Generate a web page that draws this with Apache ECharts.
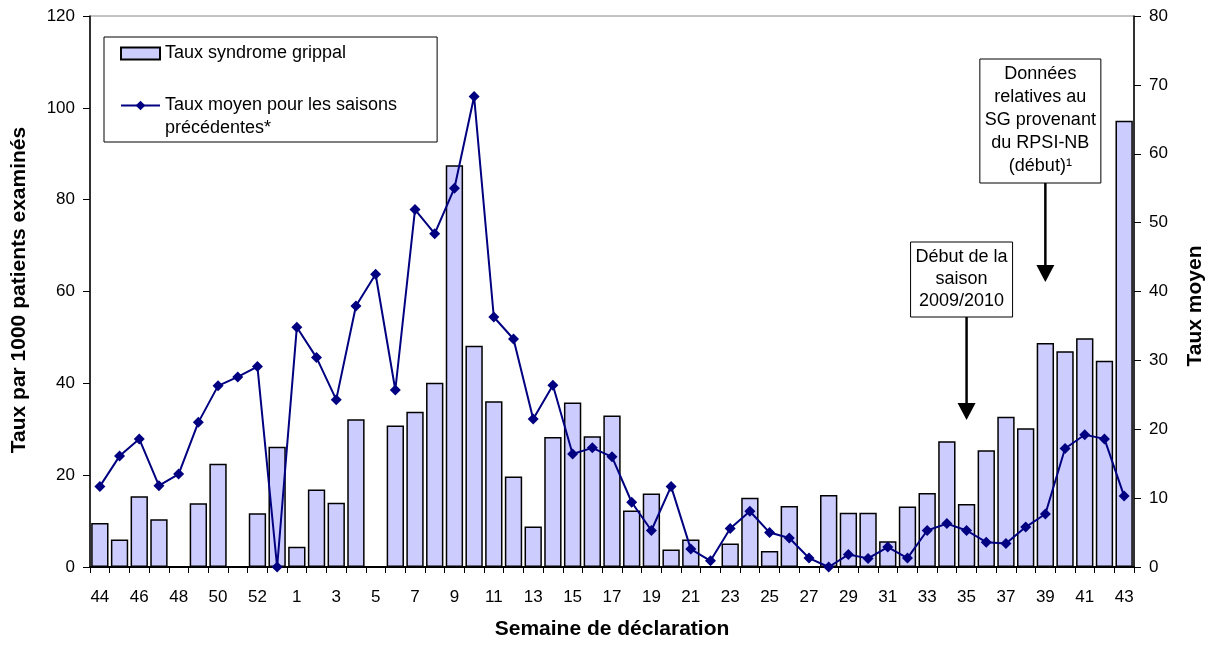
<!DOCTYPE html>
<html>
<head>
<meta charset="utf-8">
<title>Taux syndrome grippal</title>
<script src="https://cdn.jsdelivr.net/npm/echarts@6/dist/echarts.min.js"></script>
<style>
html, body { margin: 0; padding: 0; background: #fff; }
#main { width: 1211px; height: 646px; }
</style>
</head>
<body>
<div id="main"></div>
<script>
// semaines de déclaration (44 à 53, puis 1 à 43)
const semaines = ['44', '45', '46', '47', '48', '49', '50', '51', '52', '53',
  '1', '2', '3', '4', '5', '6', '7', '8', '9', '10',
  '11', '12', '13', '14', '15', '16', '17', '18', '19', '20',
  '21', '22', '23', '24', '25', '26', '27', '28', '29', '30',
  '31', '32', '33', '34', '35', '36', '37', '38', '39', '40',
  '41', '42', '43']

// taux syndrome grippal (axe gauche), null = pas de donnée
const tauxSG = [9.6, 6.0, 15.4, 10.4, null, 13.9, 22.5, null, 11.7, 26.2,
  4.4, 16.9, 14.0, 32.2, null, 30.8, 33.8, 40.1, 87.5, 48.2,
  36.1, 19.7, 8.8, 28.3, 35.8, 28.5, 33.0, 12.3, 16.0, 3.8,
  6.0, null, 5.1, 15.1, 3.5, 13.3, null, 15.7, 11.8, 11.8,
  5.6, 13.2, 16.1, 27.4, 13.7, 25.4, 32.7, 30.2, 48.8, 47.0,
  49.8, 44.9, 97.2]

// taux moyen pour les saisons précédentes (axe droit)
const tauxMoyen = [11.7, 16.1, 18.6, 11.8, 13.5, 21.0, 26.3, 27.6, 29.1, 0,
  34.8, 30.4, 24.3, 37.9, 42.5, 25.7, 51.9, 48.4, 55.0, 68.3,
  36.3, 33.1, 21.5, 26.4, 16.4, 17.3, 16.0, 9.4, 5.3, 11.7,
  2.6, 0.9, 5.6, 8.1, 5.0, 4.2, 1.3, 0, 1.8, 1.25,
  2.9, 1.3, 5.3, 6.3, 5.3, 3.6, 3.4, 5.8, 7.7, 17.2,
  19.2, 18.6, 10.3]

// annotations : semaine visée et texte
const noteSemaines = ['35', '39']
const noteTextes = ['Début de la\nsaison\n2009/2010', 'Données\nrelatives au\nSG provenant\ndu RPSI-NB\n(début)¹']

const font = "'Liberation Sans', Arial, sans-serif"
const chart = echarts.init(document.getElementById('main'))

const option = {
  animation: false,
  textStyle: { fontFamily: font },
  grid: {
    left: 90,
    right: 77,
    top: 16,
    bottom: 79,
    show: true,
    borderColor: '#888',
    borderWidth: 1
  },
  legend: {
    orient: 'vertical',
    left: 104,
    top: 37,
    padding: [5, 40, 2, 16],
    itemGap: 6,
    itemWidth: 39,
    itemHeight: 12,
    borderColor: '#000',
    borderWidth: 1,
    textStyle: { fontSize: 18, lineHeight: 23, color: '#000', fontFamily: font },
    data: [
      { name: 'Taux syndrome grippal', icon: 'rect' },
      { name: 'Taux moyen pour les saisons précédentes*' }
    ],
    formatter: function (name) {
      // ligne vide en tête pour aligner le symbole sur la première ligne
      if (name.indexOf('saisons ') > 0) return '\n' + name.replace('saisons ', 'saisons\n')
      return name
    }
  },
  xAxis: {
    type: 'category',
    data: semaines,
    name: 'Semaine de déclaration',
    nameLocation: 'middle',
    nameGap: 52,
    nameTextStyle: { fontSize: 21, fontWeight: 'bold', color: '#000' },
    axisLine: { lineStyle: { color: '#000', width: 2 } },
    axisTick: { show: true, interval: 0, length: 6, lineStyle: { color: '#000' } },
    axisLabel: { interval: 1, fontSize: 17, color: '#000', margin: 22 }
  },
  yAxis: [
    {
      type: 'value',
      min: 0,
      max: 120,
      interval: 20,
      splitLine: { show: false },
      axisLine: { show: true, lineStyle: { color: '#000', width: 1.5 } },
      axisTick: { show: true, length: 7, lineStyle: { color: '#000' } },
      axisLabel: { fontSize: 17, color: '#000', margin: 15 }
    },
    {
      type: 'value',
      min: 0,
      max: 80,
      interval: 10,
      position: 'right',
      splitLine: { show: false },
      axisLine: { show: true, lineStyle: { color: '#000', width: 1.5 } },
      axisTick: { show: true, length: 7, lineStyle: { color: '#000' } },
      axisLabel: { fontSize: 17, color: '#000', margin: 15 }
    }
  ],
  series: [
    {
      name: 'Taux syndrome grippal',
      type: 'bar',
      yAxisIndex: 0,
      data: tauxSG,
      barCategoryGap: '12%',
      itemStyle: { color: '#ccccff', borderColor: '#000', borderWidth: 1.5 }
    },
    {
      name: 'Taux moyen pour les saisons précédentes*',
      type: 'line',
      yAxisIndex: 1,
      data: tauxMoyen,
      symbol: 'diamond',
      symbolSize: 11,
      lineStyle: { color: '#000080', width: 2 },
      itemStyle: { color: '#000080' }
    }
  ]
}

chart.setOption(option)

// titres des axes verticaux et annotations fléchées
function annotations () {
  const els = []
  els.push({
    type: 'text',
    x: 19, y: 290, rotation: Math.PI / 2,
    style: { text: 'Taux par 1000 patients examinés', font: 'bold 21px ' + font, fill: '#000', align: 'center', verticalAlign: 'middle' }
  })
  els.push({
    type: 'text',
    x: 1195, y: 306, rotation: Math.PI / 2,
    style: { text: 'Taux moyen', font: 'bold 21px ' + font, fill: '#000', align: 'center', verticalAlign: 'middle' }
  })
  const boxes = [
    { top: 242, w: 102, h: 75, tip: 420, lh: 22 },
    { top: 59, w: 121, h: 124, tip: 282, lh: 23 }
  ]
  noteSemaines.forEach(function (s, i) {
    const b = boxes[i]
    const cx = chart.convertToPixel({ xAxisIndex: 0 }, s)
    const bx = cx - 5
    els.push({
      type: 'rect',
      shape: { x: bx - b.w / 2, y: b.top, width: b.w, height: b.h },
      style: { fill: '#fff', stroke: '#000', lineWidth: 1 }
    })
    els.push({
      type: 'text',
      x: bx, y: b.top + 4,
      style: { text: noteTextes[i], font: '18px ' + font, fill: '#000', align: 'center', verticalAlign: 'top', lineHeight: b.lh }
    })
    els.push({
      type: 'line',
      shape: { x1: cx, y1: b.top + b.h, x2: cx, y2: b.tip - 14 },
      style: { stroke: '#000', lineWidth: 2.5 }
    })
    els.push({
      type: 'polygon',
      shape: { points: [[cx - 9, b.tip - 17], [cx + 9, b.tip - 17], [cx, b.tip]] },
      style: { fill: '#000' }
    })
  })
  chart.setOption({ graphic: els })
}
annotations()
</script>
</body>
</html>
